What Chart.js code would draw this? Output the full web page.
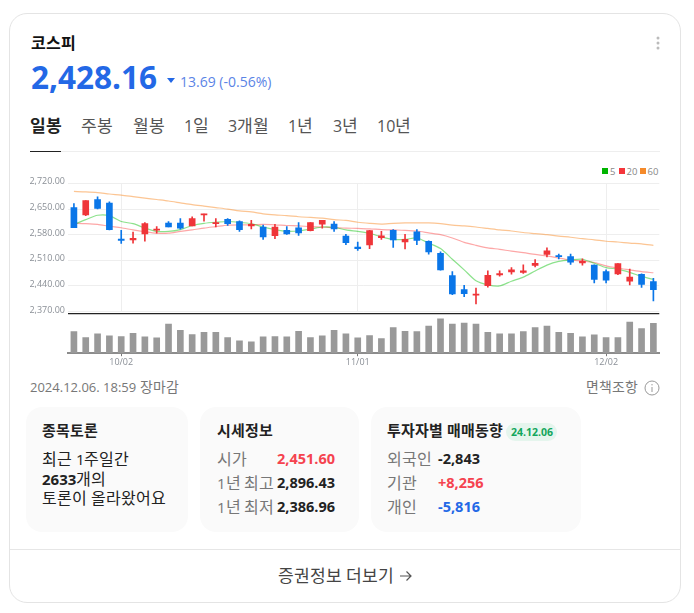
<!DOCTYPE html>
<html lang="ko">
<head>
<meta charset="utf-8">
<title>코스피</title>
<script src="https://cdn.jsdelivr.net/npm/chart.js@4"></script>
<style>
    /* hangul runs a bit wider than the latin digits in the original */
    @font-face { font-family: "KrWide"; src: local("Noto Sans CJK KR"), local("Noto Sans CJK KR Regular"); font-weight: 400; size-adjust: 107%; unicode-range: U+1100-11FF, U+3130-318F, U+AC00-D7AF; }
    @font-face { font-family: "KrWide"; src: local("Noto Sans CJK KR Bold"); font-weight: 700; size-adjust: 107%; unicode-range: U+1100-11FF, U+3130-318F, U+AC00-D7AF; }
    html, body { margin: 0; padding: 0; background: #fff; }
    body { width: 694px; height: 613px; position: relative; overflow: hidden; font-family: "KrWide", "Open Sans", "Noto Sans CJK KR", sans-serif; color: #222; }
    .abs { position: absolute; white-space: nowrap; line-height: 1; }
    .card { position: absolute; left: 9px; top: 13px; width: 670px; height: 588px; border: 1px solid #e4e4e4; border-radius: 18px; }
    .box { position: absolute; top: 407px; height: 125px; background: #fafafa; border-radius: 16px; }
    .tab { font-size: 16px; color: #555; top: 118px; }
    .label { font-size: 15px; color: #777; }
    .value { font-size: 14.5px; font-weight: 700; color: #222; }
    .title { font-size: 14px; font-weight: 700; color: #222; top: 424px; }
    .legend-box { position: absolute; top: 168px; width: 6px; height: 6px; }
    .legend-text { font-size: 9.5px; color: #888; top: 166.5px; }
    canvas { position: absolute; }
</style>
</head>
<body>
<div class="card"></div>
<div class="abs" style="left:31px;top:36px;font-size:15px;font-weight:700;color:#111">코스피</div>
<svg class="abs" style="left:655px;top:36px" width="6" height="14"><circle cx="3" cy="2" r="1.5" fill="#bbb"/><circle cx="3" cy="7" r="1.5" fill="#bbb"/><circle cx="3" cy="12" r="1.5" fill="#bbb"/></svg>
<div class="abs" style="left:31px;top:61px;font-size:31.5px;font-weight:700;color:#2368e6">2,428.16</div>
<svg class="abs" style="left:167px;top:78px" width="8" height="5"><path d="M0 0H8L4 5Z" fill="#2368e6"/></svg>
<div class="abs" style="left:180px;top:75px;font-size:14px;color:#5b84e6">13.69 (-0.56%)</div>

<div class="abs tab" style="left:30px;font-weight:700;color:#222">일봉</div>
<div class="abs tab" style="left:81px">주봉</div>
<div class="abs tab" style="left:133px">월봉</div>
<div class="abs tab" style="left:184px">1일</div>
<div class="abs tab" style="left:228px">3개월</div>
<div class="abs tab" style="left:288px">1년</div>
<div class="abs tab" style="left:333px">3년</div>
<div class="abs tab" style="left:377px">10년</div>
<div class="abs" style="left:30px;top:151px;width:630px;height:1px;background:#eee"></div>
<div class="abs" style="left:30px;top:151px;width:31px;height:1px;background:#222"></div>

<div class="legend-box" style="left:602px;background:#00b400"></div>
<div class="abs legend-text" style="left:610px">5</div>
<div class="legend-box" style="left:619px;background:#f5353b"></div>
<div class="abs legend-text" style="left:626.5px">20</div>
<div class="legend-box" style="left:640px;background:#f58a2a"></div>
<div class="abs legend-text" style="left:647.5px">60</div>

<canvas id="priceChart" width="630" height="145" style="left:30px;top:175px"></canvas>
<canvas id="volumeChart" width="630" height="59" style="left:30px;top:310px"></canvas>

<div class="abs" style="left:30px;top:381px;font-size:13px;color:#777">2024.12.06. 18:59 장마감</div>
<div class="abs" style="left:586px;top:381px;font-size:13px;color:#777">면책조항</div>
<svg class="abs" style="left:644px;top:380px" width="16" height="16"><circle cx="8" cy="8" r="7" fill="none" stroke="#999"/><path d="M8 7V12M8 4V5.4" stroke="#999" fill="none"/></svg>

<div class="box" style="left:26px;width:162px"></div>
<div class="box" style="left:200px;width:159px"></div>
<div class="box" style="left:371px;width:210px"></div>

<div class="abs title" style="left:42px">종목토론</div>
<div class="abs" style="left:42px;top:452px;font-size:15px">최근 1주일간</div>
<div class="abs" style="left:42px;top:472px;font-size:15px"><b>2633</b>개의</div>
<div class="abs" style="left:42px;top:491px;font-size:15px">토론이 올라왔어요</div>

<div class="abs title" style="left:217px">시세정보</div>
<div class="abs label" style="left:217px;top:452px">시가</div>
<div class="abs label" style="left:217px;top:476px">1년 최고</div>
<div class="abs label" style="left:217px;top:500px">1년 최저</div>
<div class="abs value" style="left:277px;top:452px;color:#f5434f">2,451.60</div>
<div class="abs value" style="left:277px;top:476px">2,896.43</div>
<div class="abs value" style="left:277px;top:500px">2,386.96</div>

<div class="abs title" style="left:387px">투자자별 매매동향</div>
<div class="abs" style="left:506px;top:423px;width:51px;height:18px;border-radius:9px;background:#e5f5ed"></div>
<div class="abs" style="left:511px;top:427px;font-size:10.5px;font-weight:700;color:#12a65c">24.12.06</div>
<div class="abs label" style="left:387px;top:452px">외국인</div>
<div class="abs label" style="left:387px;top:476px">기관</div>
<div class="abs label" style="left:387px;top:500px">개인</div>
<div class="abs value" style="left:438px;top:452px">-2,843</div>
<div class="abs value" style="left:438px;top:476px;color:#f5434f">+8,256</div>
<div class="abs value" style="left:438px;top:500px;color:#2368e6">-5,816</div>

<div class="abs" style="left:10px;top:549px;width:671px;height:1px;background:#e6e6e6"></div>
<div class="abs" style="left:278px;top:568px;font-size:16px;color:#444">증권정보 더보기</div>
<svg class="abs" style="left:399px;top:570px" width="14" height="12"><path d="M1 6H12M7.5 1.5L12 6L7.5 10.5" fill="none" stroke="#555" stroke-width="1.2"/></svg>

<script>
// Trading days
const dates = [
    '09/25', '09/26', '09/27', '09/30', '10/02', '10/04', '10/07', '10/08', '10/10', '10/11',
    '10/14', '10/15', '10/16', '10/17', '10/18', '10/21', '10/22', '10/23', '10/24', '10/25',
    '10/28', '10/29', '10/30', '10/31', '11/01', '11/04', '11/05', '11/06', '11/07', '11/08',
    '11/11', '11/12', '11/13', '11/14', '11/15', '11/18', '11/19', '11/20', '11/21', '11/22',
    '11/25', '11/26', '11/27', '11/28', '11/29', '12/02', '12/03', '12/04', '12/05', '12/06'
];
const tickDates = ['10/02', '11/01', '12/02'];
const priceTicks = [2370, 2440, 2510, 2580, 2650, 2720];

// Candles
const opens = [
    2654, 2634, 2676, 2666, 2568, 2566, 2582, 2592, 2612, 2612,
    2604, 2634, 2610, 2622, 2616, 2604, 2601, 2577, 2592, 2599,
    2591, 2609, 2609, 2576, 2546, 2552, 2572, 2592, 2560, 2588,
    2562, 2529, 2468, 2430, 2415, 2441, 2470, 2478, 2477, 2496,
    2526, 2523, 2520, 2503, 2497, 2479, 2473, 2453, 2472, 2452
];
const highs = [
    2665, 2673, 2683, 2670, 2592, 2587, 2613, 2602, 2616, 2624,
    2629, 2636, 2624, 2624, 2618, 2619, 2606, 2608, 2602, 2613,
    2613, 2619, 2616, 2581, 2560, 2592, 2589, 2594, 2581, 2594,
    2563, 2533, 2479, 2442, 2434, 2481, 2481, 2490, 2498, 2512,
    2544, 2527, 2527, 2514, 2498, 2484, 2501, 2486, 2473, 2461
];
const lows = [
    2599, 2632, 2650, 2593, 2556, 2557, 2562, 2584, 2601, 2595,
    2604, 2617, 2601, 2605, 2589, 2596, 2567, 2569, 2581, 2578,
    2590, 2598, 2589, 2553, 2537, 2542, 2567, 2545, 2541, 2553,
    2527, 2483, 2416, 2411, 2391, 2437, 2467, 2472, 2474, 2492,
    2519, 2514, 2499, 2497, 2448, 2448, 2471, 2443, 2436, 2399
];
const closes = [
    2599, 2673, 2652, 2594, 2564, 2570, 2610, 2595, 2601, 2598,
    2624, 2636, 2613, 2610, 2594, 2608, 2574, 2601, 2582, 2585,
    2613, 2619, 2596, 2558, 2542, 2591, 2577, 2566, 2567, 2564,
    2533, 2484, 2418, 2419, 2417, 2469, 2474, 2484, 2481, 2502,
    2536, 2520, 2505, 2508, 2458, 2456, 2501, 2464, 2444, 2430
];

// Moving averages
const ma5 = [
    2608, 2621, 2633, 2632, 2616, 2610, 2598, 2589, 2589, 2594,
    2605, 2611, 2614, 2616, 2614, 2610, 2601, 2594, 2589, 2590,
    2595, 2601, 2600, 2593, 2589, 2584, 2574, 2567, 2567, 2571,
    2557, 2542, 2513, 2484, 2454, 2443, 2440, 2453, 2464, 2481,
    2497, 2507, 2511, 2513, 2502, 2490, 2486, 2477, 2466, 2458
];
const ma20 = [
    2611, 2610, 2608, 2603, 2599, 2593, 2588, 2584, 2584, 2589,
    2593, 2598, 2602, 2606, 2607, 2607, 2608, 2607, 2605, 2604,
    2602, 2601, 2599, 2598, 2597, 2596, 2594, 2593, 2592, 2590,
    2585, 2580, 2571, 2559, 2551, 2544, 2540, 2535, 2531, 2526,
    2522, 2516, 2511, 2508, 2504, 2495, 2489, 2484, 2479, 2476
];
const ma60 = [
    2698, 2697, 2695, 2691, 2688, 2684, 2680, 2676, 2672, 2667,
    2662, 2658, 2654, 2650, 2645, 2642, 2637, 2634, 2632, 2629,
    2627, 2625, 2621, 2619, 2614, 2611, 2609, 2611, 2612, 2612,
    2612, 2610, 2606, 2604, 2601, 2597, 2593, 2590, 2586, 2583,
    2580, 2576, 2573, 2569, 2566, 2562, 2560, 2557, 2555, 2551
];

// Volume (read as bar heights, no axis in the picture)
const volumes = [
    62, 45, 56, 50, 48, 57, 47, 44, 84, 66,
    54, 60, 60, 45, 36, 33, 47, 48, 47, 63,
    45, 50, 66, 56, 44, 51, 42, 74, 63, 62,
    78, 99, 84, 87, 84, 60, 56, 56, 62, 74,
    78, 60, 57, 47, 53, 45, 45, 90, 71, 86
];

const RED = '#ef3539';
const BLUE = '#0a76e8';
const candleColors = opens.map((o, i) => closes[i] >= o ? RED : BLUE);
const font = "'Open Sans', sans-serif";
const axisWidth = 38;

function maDataset(name, data, color) {
    return {
        type: 'line',
        label: name,
        data: data,
        borderColor: color,
        borderWidth: 1.2,
        pointRadius: 0,
        tension: 0.25,
        order: 2
    };
}

new Chart(document.getElementById('priceChart'), {
    type: 'bar',
    data: {
        labels: dates,
        datasets: [
            maDataset('5', ma5, 'rgba(0, 190, 0, 0.45)'),
            maDataset('20', ma20, 'rgba(250, 60, 60, 0.45)'),
            maDataset('60', ma60, 'rgba(250, 140, 40, 0.5)'),
            {
                label: 'wick',
                data: highs.map((h, i) => [lows[i], h]),
                backgroundColor: candleColors,
                barThickness: 1,
                grouped: false,
                order: 1
            },
            {
                label: 'body',
                data: opens.map((o, i) => [o, closes[i]]),
                backgroundColor: candleColors,
                barThickness: 6,
                minBarLength: 1,
                grouped: false,
                order: 0
            }
        ]
    },
    options: {
        responsive: false,
        animation: false,
        layout: { padding: { right: 0.7 } },
        plugins: { legend: { display: false }, tooltip: { enabled: false } },
        scales: {
            x: {
                offset: true,
                afterFit: scale => { scale.height = 0; },
                border: { display: false },
                grid: {
                    offset: false,
                    drawTicks: false,
                    color: ctx => ctx.tick && tickDates.includes(dates[ctx.tick.value]) ? '#eeeeee' : 'transparent'
                },
                ticks: { display: false, autoSkip: false }
            },
            y: {
                min: priceTicks[0],
                max: priceTicks[priceTicks.length - 1],
                afterFit: scale => { scale.width = axisWidth; },
                afterBuildTicks: scale => { scale.ticks = priceTicks.map(v => ({ value: v })); },
                border: { display: false },
                grid: { color: '#eeeeee', drawTicks: false },
                ticks: {
                    padding: 3,
                    labelOffset: -1.5,
                    color: '#8a8f96',
                    font: { size: 9, family: font },
                    callback: v => v.toLocaleString('en-US', { minimumFractionDigits: 2 })
                }
            }
        }
    }
});

new Chart(document.getElementById('volumeChart'), {
    type: 'bar',
    data: {
        labels: dates,
        datasets: [{
            data: volumes,
            backgroundColor: '#999999',
            barThickness: 6
        }]
    },
    options: {
        responsive: false,
        animation: false,
        layout: { padding: { top: 4, right: 0.7 } },
        plugins: { legend: { display: false }, tooltip: { enabled: false } },
        scales: {
            x: {
                offset: true,
                border: { color: '#8c8c8c', width: 2 },
                grid: {
                    offset: false,
                    drawOnChartArea: false,
                    tickLength: 3,
                    tickColor: ctx => ctx.tick && tickDates.includes(dates[ctx.tick.value]) ? '#777' : 'transparent'
                },
                ticks: {
                    autoSkip: false,
                    maxRotation: 0,
                    padding: 1,
                    color: '#8a8f96',
                    font: { size: 9, family: font },
                    callback: function (v) { return tickDates.includes(dates[v]) ? dates[v] : ''; }
                }
            },
            y: {
                min: 0,
                max: 113,
                afterFit: scale => { scale.width = axisWidth; },
                border: { display: false },
                grid: {
                    drawTicks: false,
                    lineWidth: 1.3,
                    color: ctx => ctx.tick && ctx.tick.value === 113 ? '#222' : 'transparent'
                },
                ticks: { display: false, stepSize: 113 }
            }
        }
    }
});
</script>
</body>
</html>
